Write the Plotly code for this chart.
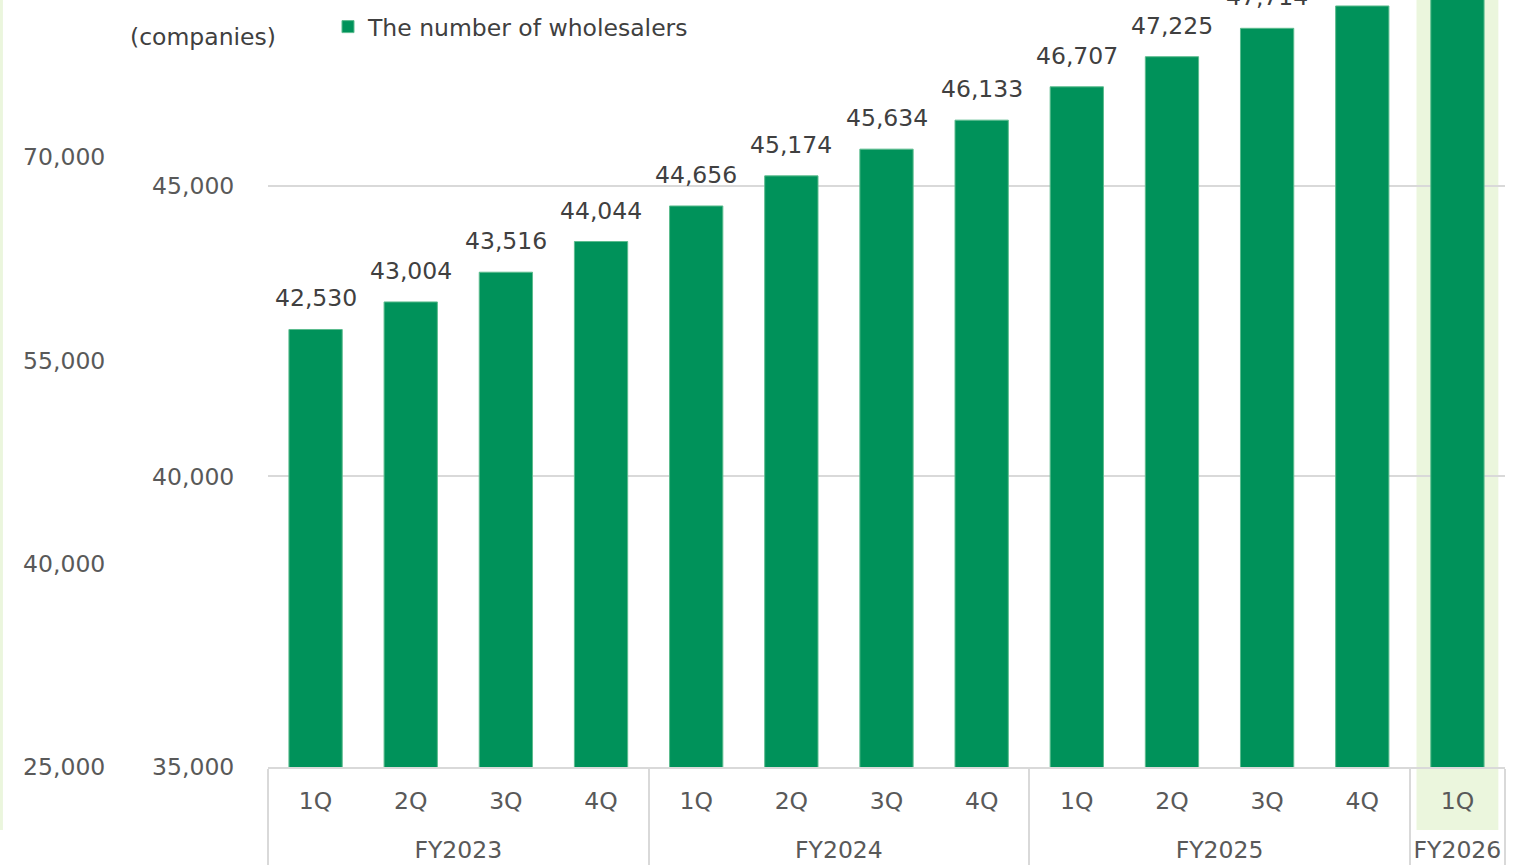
import plotly.graph_objects as go

# Quarterly count of registered wholesalers
fiscal_years = ["FY2023"] * 4 + ["FY2024"] * 4 + ["FY2025"] * 4 + ["FY2026"]
quarters = ["1Q", "2Q", "3Q", "4Q"] * 3 + ["1Q"]
wholesalers = [42530, 43004, 43516, 44044, 44656, 45174, 45634, 46133,
               46707, 47225, 47714, 48098, 48520]

main_ticks = [35000, 40000, 45000]
outer_ticks = [25000, 40000, 55000, 70000]

GREEN = "#00925A"
PALE = "#EBF6DD"
GRID = "#D9D9D9"
TICK_GRAY = "#595959"
LABEL_GRAY = "#404040"
FONT = "DejaVu Sans"
FS = 23.5

# tall blank spacers around the quarter names open up room
# between the quarter row and the fiscal-year row
SPACER = "<span style='font-size:51px'>&nbsp;</span>"
quarter_labels = [f"{SPACER}{q}{SPACER}" for q in quarters]

fig = go.Figure()

fig.add_trace(go.Bar(
    x=[fiscal_years, quarter_labels],
    y=wholesalers,
    name="The number of wholesalers",
    marker=dict(color=GREEN, line=dict(color="#5CBC8E", width=1)),
    hoverinfo="skip",
))

# empty companion trace so the secondary scale is rendered
fig.add_trace(go.Scatter(
    x=[fiscal_years, quarter_labels],
    y=[None] * len(wholesalers),
    yaxis="y2",
    mode="lines",
    showlegend=False,
    hoverinfo="skip",
))

# value labels above each bar
for i, v in enumerate(wholesalers):
    fig.add_annotation(
        x=i, y=v, xref="x", yref="y",
        text=f"{v:,}", showarrow=False,
        yanchor="middle", yshift=31,
        font=dict(family=FONT, size=FS, color=LABEL_GRAY),
    )

fig.add_annotation(
    x=-0.0525, y=0.952, xref="paper", yref="paper",
    text="(companies)", showarrow=False,
    xanchor="center", yanchor="middle",
    font=dict(family=FONT, size=FS, color=LABEL_GRAY),
)

# highlight of the latest quarter
fig.add_shape(
    type="rect", xref="x", yref="paper",
    x0=11.57, x1=12.43, y0=-0.082, y1=1.0,
    fillcolor=PALE, line=dict(width=0), layer="below",
)
# thin pale strip on the far left
fig.add_shape(
    type="rect", xref="paper", yref="paper",
    x0=-0.2167, x1=-0.2143, y0=-0.082, y1=1.0,
    fillcolor=PALE, line=dict(width=0), layer="below",
)

fig.update_layout(
    width=1526, height=867,
    margin=dict(l=268, r=21, t=0, b=100),
    paper_bgcolor="white", plot_bgcolor="rgba(0,0,0,0)",
    bargap=0.44,
    font=dict(family=FONT, size=FS, color=TICK_GRAY),
    showlegend=True,
    legend=dict(
        x=0.0485, y=0.965, xanchor="left", yanchor="middle",
        bgcolor="rgba(0,0,0,0)",
        font=dict(family=FONT, size=FS, color=LABEL_GRAY),
    ),
    xaxis=dict(
        type="multicategory",
        showline=True, linecolor=GRID, linewidth=2,
        showdividers=True, dividercolor=GRID, dividerwidth=2,
        ticks="", ticklabelstandoff=12,
        tickfont=dict(family=FONT, size=FS, color=TICK_GRAY),
        showgrid=False,
    ),
    yaxis=dict(
        range=[35000, 48201],
        tickvals=main_ticks,
        ticktext=[f"{t:,}" for t in main_ticks],
        showgrid=True, gridcolor=GRID, gridwidth=2,
        zeroline=False, showline=False,
        ticks="outside", ticklen=28, tickcolor="rgba(0,0,0,0)",
        tickfont=dict(family=FONT, size=FS, color=TICK_GRAY),
    ),
    yaxis2=dict(
        overlaying="y", anchor="free", position=0, side="left",
        range=[25000, 81582],
        tickvals=outer_ticks,
        ticktext=[f"{t:,}" for t in outer_ticks],
        showgrid=False, zeroline=False, showline=False,
        ticks="outside", ticklen=158, tickcolor="rgba(0,0,0,0)",
        tickfont=dict(family=FONT, size=FS, color=TICK_GRAY),
    ),
)

fig.write_html("out.html")
